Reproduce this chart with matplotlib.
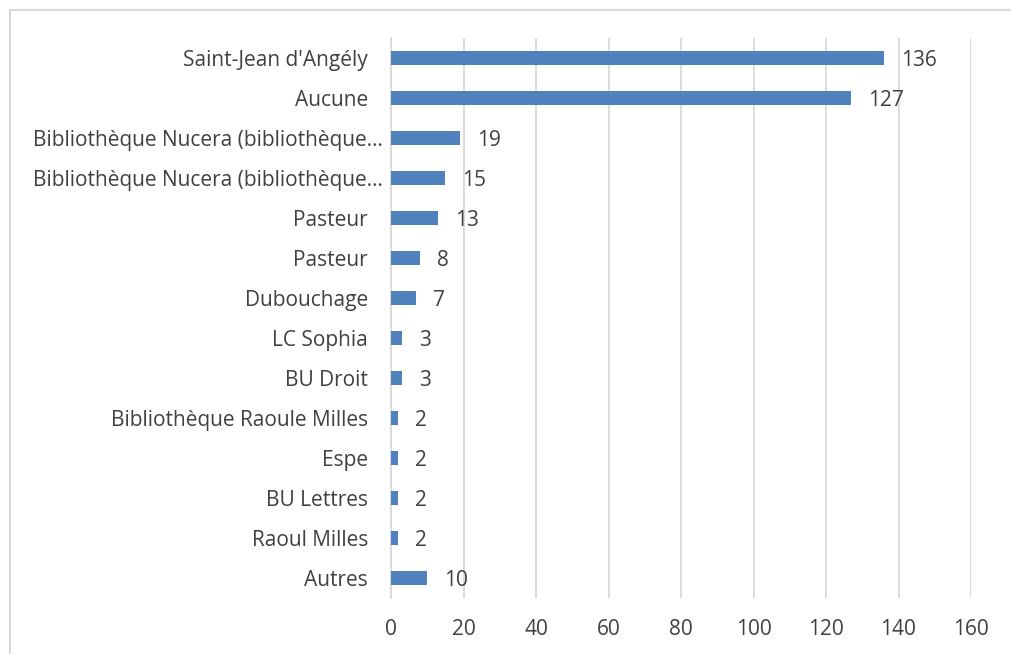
import matplotlib
matplotlib.use('Agg')
import matplotlib.pyplot as plt
from matplotlib.lines import Line2D
from matplotlib.transforms import ScaledTranslation

categories = ["Saint-Jean d'Angély", "Aucune", "Bibliothèque Nucera (bibliothèque…",
              "Bibliothèque Nucera (bibliothèque…", "Pasteur", "Pasteur", "Dubouchage",
              "LC Sophia", "BU Droit", "Bibliothèque Raoule Milles", "Espe", "BU Lettres",
              "Raoul Milles", "Autres"]
values = [136, 127, 19, 15, 13, 8, 7, 3, 3, 2, 2, 2, 2, 10]
xticks = [0, 20, 40, 60, 80, 100, 120, 140, 160]

barcol = '#4f81bd'
textcol = '#404040'
gridcol = '#d9d9d9'

plt.rcParams['font.family'] = ['Open Sans', 'DejaVu Sans']

W, H = 1011, 654
fig = plt.figure(figsize=(W / 100, H / 100), dpi=100)
ax = fig.add_axes([391 / W, 1 - 598 / H, 580 / W, 560 / H])

ypos = list(range(len(categories)))
ax.barh(ypos, values, height=0.35, color=barcol, zorder=3)
down = ScaledTranslation(0, -2 / 100, fig.dpi_scale_trans)
for y, v in zip(ypos, values):
    ax.text(v + 4.7, y, str(v), va='center', ha='left', fontsize=15, color=textcol,
            transform=ax.transData + down)

ax.set_ylim(len(categories) - 0.5, -0.5)
ax.set_xlim(0, 160)
ax.set_xticks(xticks)
ax.set_yticks(ypos)
ax.set_yticklabels(categories)
ax.tick_params(axis='y', length=0, pad=16.5, labelsize=15, labelcolor=textcol)
ax.tick_params(axis='x', length=0, pad=15, labelsize=15, labelcolor=textcol)

# truncated labels run a bit further toward the axis, as in the original
shift = ScaledTranslation(15 / 100, 0, fig.dpi_scale_trans)
for lab in ax.get_yticklabels():
    if lab.get_text().endswith('…'):
        lab.set_transform(lab.get_transform() + shift)

ax.grid(axis='x', color=gridcol, linewidth=1.3, zorder=0)
for s in ['top', 'right', 'bottom']:
    ax.spines[s].set_visible(False)
ax.spines['left'].set_color(gridcol)
ax.spines['left'].set_linewidth(1.3)

# chart area border (only top and left visible in the crop)
fig.add_artist(Line2D([9.5 / W, 1], [1 - 9.5 / H, 1 - 9.5 / H], color=gridcol, linewidth=1.5))
fig.add_artist(Line2D([9.5 / W, 9.5 / W], [0, 1 - 9.5 / H], color=gridcol, linewidth=1.5))

fig.savefig('out.png', dpi=100, facecolor='white')
